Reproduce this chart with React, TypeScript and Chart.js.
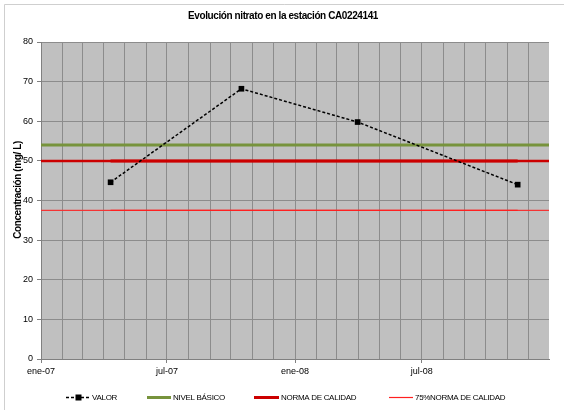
import React, { useEffect, useRef } from "react";
import { Chart, registerables } from "chart.js";

Chart.register(...registerables);

// ---- data ----
const chartTitle = "Evolución nitrato en la estación CA0224141";
const yAxisTitle = "Concentración (mg/ L)";
const sampleDates = ["2007-04-11", "2007-10-16", "2008-03-31", "2008-11-16"];
const valorValues = [44.6, 68.2, 59.8, 44.0];
const nivelBasico = 54;
const normaCalidad = 50;
const normaCalidad75 = 37.5;
const axisStartDate = "2007-01-01";
const axisEndDate = "2008-12-31";
const tickLabelDates = ["2007-01-01", "2007-07-01", "2008-01-01", "2008-07-01"];
const tickLabels = ["ene-07", "jul-07", "ene-08", "jul-08"];
const legendLabels = ["VALOR", "NIVEL BÁSICO", "NORMA DE CALIDAD", "75%NORMA DE CALIDAD"];
const yMin = 0;
const yMax = 80;
const yStep = 10;

const DAY = 86400000;
const t0 = Date.parse(axisStartDate);
const dayOf = (s: string) => Math.round((Date.parse(s) - t0) / DAY);
const xMax = dayOf(axisEndDate);

// month-start gridline positions
const monthTicks: number[] = [];
{
  const d = new Date(t0);
  while (true) {
    const v = Math.round((d.getTime() - t0) / DAY);
    if (v > xMax) break;
    monthTicks.push(v);
    d.setUTCMonth(d.getUTCMonth() + 1);
  }
}
const labelByDay: Record<number, string> = {};
tickLabelDates.forEach((s, i) => (labelByDay[dayOf(s)] = tickLabels[i]));

const COL_VALOR = "#000000";
const COL_NIVEL = "#77933C";
const COL_NORMA = "#CC0000";
const COL_NORMA75 = "#FF2020";
const FONT = "'Liberation Sans', Arial, sans-serif";

const decorPlugin = {
  id: "decor",
  beforeDraw(chart: any) {
    const { ctx, chartArea } = chart;
    ctx.save();
    ctx.fillStyle = "#ffffff";
    ctx.fillRect(0, 0, chart.width, chart.height);
    ctx.fillStyle = "#C0C0C0";
    ctx.fillRect(chartArea.left, chartArea.top, chartArea.right - chartArea.left, chartArea.bottom - chartArea.top);
    ctx.restore();
  },
  afterDraw(chart: any) {
    const { ctx } = chart;
    ctx.save();
    // outer frame
    ctx.strokeStyle = "#cfcfcf";
    ctx.lineWidth = 1;
    ctx.beginPath();
    ctx.moveTo(4.5, chart.height);
    ctx.lineTo(4.5, 4.5);
    ctx.lineTo(chart.width, 4.5);
    ctx.stroke();

    // title
    ctx.fillStyle = "#000";
    ctx.font = `bold 10px ${FONT}`;
    (ctx as any).letterSpacing = "-0.4px";
    ctx.textAlign = "center";
    ctx.textBaseline = "middle";
    ctx.fillText(chartTitle, 283, 16);

    // y axis title
    ctx.save();
    ctx.translate(18, 190);
    ctx.rotate(-Math.PI / 2);
    ctx.font = `bold 10px ${FONT}`;
    ctx.fillText(yAxisTitle, 0, 0);
    ctx.restore();

    // legend
    const ly = 397.5;
    ctx.font = `8px ${FONT}`;
    (ctx as any).letterSpacing = "-0.3px";
    ctx.textAlign = "left";
    ctx.textBaseline = "middle";
    const items = [
      { x1: 66, x2: 91, tx: 92, color: COL_VALOR, w: 1.5, dash: [3, 2], marker: true },
      { x1: 147, x2: 171, tx: 173, color: COL_NIVEL, w: 3, dash: [], marker: false },
      { x1: 254, x2: 279, tx: 281, color: COL_NORMA, w: 3, dash: [], marker: false },
      { x1: 389, x2: 413, tx: 415, color: COL_NORMA75, w: 1.2, dash: [], marker: false },
    ];
    items.forEach((it, i) => {
      ctx.strokeStyle = it.color;
      ctx.lineWidth = it.w;
      ctx.setLineDash(it.dash);
      ctx.beginPath();
      ctx.moveTo(it.x1, ly);
      ctx.lineTo(it.x2, ly);
      ctx.stroke();
      ctx.setLineDash([]);
      if (it.marker) {
        ctx.fillStyle = "#000";
        const cx = (it.x1 + it.x2) / 2;
        ctx.fillRect(cx - 3, ly - 3, 6, 6);
      }
      ctx.fillStyle = "#000";
      ctx.fillText(legendLabels[i], it.tx, ly);
    });
    ctx.restore();
  },
};

export default function App() {
  const ref = useRef<HTMLCanvasElement | null>(null);
  useEffect(() => {
    document.body.style.margin = "0";
    if (!ref.current) return;
    const hline = (v: number) => [
      { x: 0, y: v },
      { x: xMax, y: v },
    ];
    const hlineSampled = (v: number) => [
      { x: dayOf(sampleDates[0]), y: v },
      { x: dayOf(sampleDates[sampleDates.length - 1]), y: v },
    ];
    const chart = new Chart(ref.current, {
      type: "line",
      data: {
        datasets: [
          {
            label: legendLabels[0],
            data: sampleDates.map((d, i) => ({ x: dayOf(d), y: valorValues[i] })),
            borderColor: COL_VALOR,
            backgroundColor: COL_VALOR,
            borderWidth: 1.5,
            borderDash: [3, 2],
            pointStyle: "rect",
            pointRadius: 4,
            pointBorderWidth: 0,
            tension: 0,
          },
          {
            label: legendLabels[1],
            data: hline(nivelBasico),
            borderColor: COL_NIVEL,
            borderWidth: 3,
            pointRadius: 0,
          },
          {
            label: legendLabels[2],
            data: hlineSampled(normaCalidad),
            borderColor: COL_NORMA,
            borderWidth: 3,
            pointRadius: 0,
          },
          {
            label: legendLabels[3],
            data: hlineSampled(normaCalidad75),
            borderColor: COL_NORMA75,
            borderWidth: 1.4,
            pointRadius: 0,
          },
          {
            label: legendLabels[2] + " (eje)",
            data: hline(normaCalidad),
            borderColor: "#CC0000",
            borderWidth: 2.5,
            pointRadius: 0,
          },
          {
            label: legendLabels[3] + " (eje)",
            data: hline(normaCalidad75),
            borderColor: "#F43434",
            borderWidth: 1.2,
            pointRadius: 0,
          },
        ],
      },
      options: {
        animation: false,
        responsive: false,
        devicePixelRatio: 1,
        layout: { padding: { left: 0, right: 15, top: 42, bottom: 0 } },
        plugins: { legend: { display: false }, title: { display: false }, tooltip: { enabled: false } },
        scales: {
          x: {
            type: "linear",
            min: 0,
            max: xMax,
            afterBuildTicks: (scale: any) => {
              scale.ticks = monthTicks.map((v) => ({ value: v }));
            },
            afterFit: (scale: any) => {
              scale.height = 51;
            },
            ticks: {
              autoSkip: false,
              maxRotation: 0,
              padding: 3,
              color: "#000",
              font: { family: FONT, size: 9 },
              callback: (v: any) => labelByDay[v as number] ?? "",
            },
            grid: {
              color: "#8c8c8c",
              lineWidth: 1,
              tickLength: 4,
              tickColor: (c: any) => (c.tick && labelByDay[c.tick.value] !== undefined ? "#808080" : "rgba(0,0,0,0)"),
            },
            border: { color: "#808080", width: 1 },
          },
          y: {
            min: yMin,
            max: yMax,
            afterFit: (scale: any) => {
              scale.width = 41;
            },
            ticks: {
              stepSize: yStep,
              padding: 4,
              color: "#000",
              font: { family: FONT, size: 9 },
            },
            grid: { color: "#8c8c8c", lineWidth: 1, tickLength: 4, tickColor: "#808080" },
            border: { color: "#808080", width: 1 },
          },
        },
      },
      plugins: [decorPlugin],
    } as any);
    return () => chart.destroy();
  }, []);
  return (
    <div style={{ position: "absolute", left: 0, top: 0, width: 564, height: 410 }}>
      <canvas ref={ref} width={564} height={410} style={{ display: "block", width: 564, height: 410 }} />
    </div>
  );
}
